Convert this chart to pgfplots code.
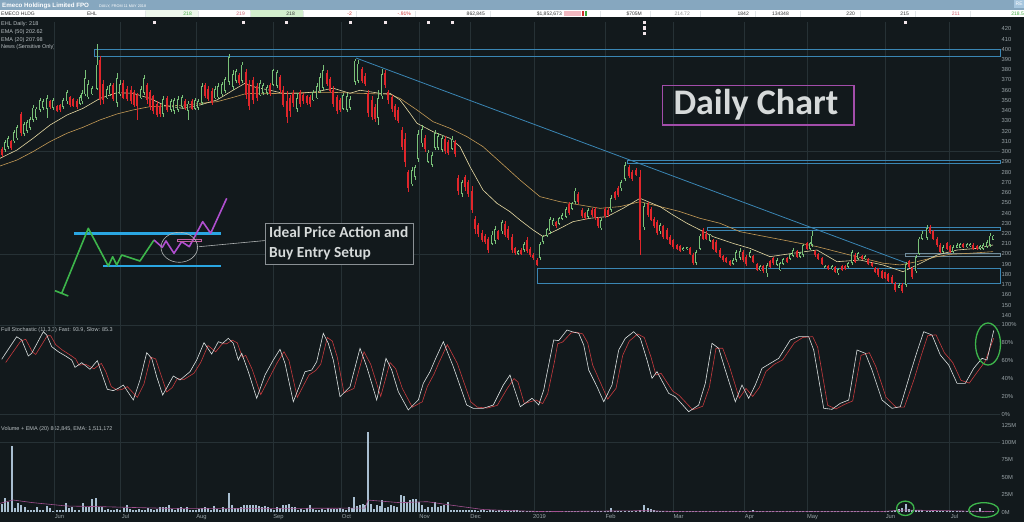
\documentclass[border=0pt]{standalone}
\usepackage{fontspec}
\setmainfont{Liberation Sans}
\newfontfamily\carlito{Carlito}
\usepackage{pgfplots}
\usepackage{pgfplotstable}
\pgfplotsset{compat=1.18}

\definecolor{bgc}{HTML}{12191C}
\definecolor{gridc}{HTML}{263135}
\definecolor{tickc}{HTML}{9AA4A8}
\definecolor{upc}{HTML}{79C178}
\definecolor{dnc}{HTML}{E0262B}
\definecolor{emaf}{HTML}{E6D9A2}
\definecolor{emas}{HTML}{C49A55}
\definecolor{boxc}{HTML}{3A86B4}
\definecolor{fastc}{HTML}{DDE2E2}
\definecolor{slowc}{HTML}{C63A3E}
\definecolor{volc}{HTML}{A8BED0}
\definecolor{vemac}{HTML}{A2508F}
\definecolor{hdrc}{HTML}{86A7BF}
\definecolor{cyanc}{HTML}{2AA6E2}
\definecolor{grnc}{HTML}{3DB54B}
\definecolor{purc}{HTML}{B04FCF}
\definecolor{annc}{HTML}{D6DADA}
\definecolor{dboxc}{HTML}{A24DAA}
\definecolor{legc}{HTML}{B8BFC2}
\definecolor{rebox}{HTML}{A6C6DE}
\definecolor{cellg}{HTML}{D3EECD}
\definecolor{cellg2}{HTML}{EEF7EC}
\definecolor{sepc}{HTML}{E2E6E8}
\definecolor{dtext}{HTML}{333333}
\definecolor{gtext}{HTML}{3DAA3D}
\definecolor{ptext}{HTML}{D06070}
\definecolor{rtext}{HTML}{D03030}
\definecolor{pinkbar}{HTML}{F2B8C0}
\definecolor{newsc}{HTML}{F2E6EA}
\definecolor{thinbox}{HTML}{6F8C9C}
\definecolor{pinkrect}{HTML}{C060A0}
\definecolor{ellc}{HTML}{B0B4B4}
\definecolor{tboxc}{HTML}{8A9094}

% x open high low close  (x in chart pixels)
\pgfplotstableread{
x o h l c
2 303 305 295 297
5 302 311 300 309
8 305 315 303 313
11 310 311 302 304
14 310 321 308 319
17 313 326 311 324
21 337 339 315 318
24 317 329 315 327
27 320 331 318 329
30 323 334 321 332
33 331 346 329 343
36 333 344 331 342
40 341 352 339 350
43 343 351 341 349
47 342 355 333 352
50 349 350 342 344
53 343 352 341 350
57 345 346 339 340
60 346 347 339 341
63 344 352 342 350
67 349 360 347 358
70 353 354 344 346
73 351 352 344 345
77 349 351 342 344
80 347 355 346 353
82 349 360 347 357
85 356 380 354 372
88 353 370 351 366
92 356 364 355 362
97 361 405 360 385
100 390 393 346 350
103 366 370 347 350
107 352 364 351 361
110 356 367 354 365
113 365 367 349 351
117 348 377 344 372
120 356 370 354 366
123 367 370 351 352
127 361 364 349 351
131 360 364 347 349
134 358 360 344 346
137 355 357 331 345
141 352 364 351 361
144 357 375 355 372
147 365 367 347 350
150 358 360 341 344
153 354 355 337 340
157 347 349 334 336
160 345 347 334 337
163 337 354 334 351
167 352 354 339 341
171 341 351 339 349
174 340 352 337 350
178 341 354 339 351
182 344 355 342 353
185 349 351 341 343
188 340 349 331 347
192 349 351 341 342
195 342 352 341 350
198 343 351 341 349
202 348 367 346 364
205 365 367 352 354
208 361 364 349 351
212 359 362 346 348
215 352 364 351 361
218 353 367 351 364
222 356 368 354 366
225 359 373 357 371
229 368 395 365 392
233 363 380 360 376
236 369 381 367 379
239 375 377 365 367
242 369 388 367 385
246 378 381 351 355
249 366 370 341 345
253 370 373 347 350
257 364 367 349 352
260 355 370 354 367
263 357 367 355 365
267 357 365 355 363
270 365 367 354 356
273 365 381 364 380
277 364 380 362 378
280 373 375 357 360
283 360 364 344 346
287 349 359 328 334
290 352 355 334 340
293 357 360 344 348
297 342 357 339 352
300 358 360 344 347
303 355 357 347 349
307 354 355 346 348
310 353 355 344 347
313 350 360 349 358
317 352 367 351 364
320 359 377 357 373
323 362 385 360 380
327 377 380 364 366
330 371 373 357 359
333 360 364 344 347
337 353 355 337 340
340 350 352 339 341
343 342 357 341 355
347 341 357 339 354
350 343 354 341 351
355 368 391 365 389
358 369 390 367 386
362 381 383 367 369
365 374 377 364 366
368 357 360 334 338
372 350 354 331 334
375 344 347 329 332
378 333 360 326 352
382 354 381 351 376
385 377 380 362 365
388 358 360 347 350
392 353 355 339 342
395 345 347 331 334
398 341 344 328 330
402 321 324 302 305
405 312 318 285 290
408 280 282 261 264
412 268 285 266 282
415 275 287 272 285
418 293 321 290 317
422 308 326 305 322
425 313 316 300 303
428 290 302 289 299
432 287 300 285 297
435 304 321 302 318
438 304 318 302 315
442 302 316 300 313
445 312 315 298 301
448 309 311 297 299
452 303 315 302 312
455 309 311 295 298
458 274 277 258 262
462 259 272 256 270
465 275 277 262 265
468 270 272 256 259
472 262 266 240 243
475 234 237 220 224
478 228 230 217 220
482 221 223 212 214
485 218 220 210 212
488 215 217 201 204
492 210 222 209 219
495 213 227 210 224
498 222 223 214 215
502 222 233 220 231
505 229 232 217 219
508 224 227 214 216
512 217 220 201 204
515 206 207 199 201
518 200 204 199 203
521 204 205.5 199 200
524 204 212 202 210
527 214 217 201 203
530 205 207 197 199
533 199 201 194 196
537 194 196 188 189
540 196 212 194 210
543 212 219 210 217
547 218 225 217 224
550 222 236 220 234
553 228 235 227 233
556 231 232 225 227
559 229 236 228 235
562 234 240 233 238
566 236 246 235 244
569 249 251 238 240
572 244 251 243 250
575 251 264 249 262
578 259 261 249 251
582 243 245 235 237
585 240 241 233 235
588 236 245 235 243
592 243 245 236 238
595 244 246 233 235
598 235 236 225 227
601 225 235 223 233
605 244 246 235 237
608 243 245 236 238
611 243 258 241 255
615 261 262 253 255
618 264 266 256 258
621 264 272 262 270
625 273 290 271 287
629 285 287 274 276
632 280 282 271 273
636 282 284 276 277
640 275 282 199 214
644 226 250 223 247
648 249 251 236 238
651 244 246 232 233
654 234 236 225 227
657 231 233 219 221
660 222 230 220 228
663 227 228 215 217
667 223 225 214 215
670 217 219 209 210
673 214 215 205 207
677 209 210 204 205
680 208 209 202 203
683 204 207 203 206
687 204.5 207 203.5 206.5
690 206 207 199 200
693 199 201 189 191
696 191 204 189 202
700 205 220 204 218
703 223 225 214 215
706 220 222 214 215
710 213 220 212 219
713 214 215 204 205
716 212 214 201 202
720 204 205.5 196 197
723 198 199 192 194
726 196 197 191 192
730 193 194 188 189
733 190 196 189 194
736 194 204 192 202
740 196 205.5 194 203
743 202 204 192 194
746 197 199 188 190
750 197 204 196 202
753 198 199 191 192
757 190 191 183 184
760 184 189 183 188
763 188 189 181 183
767 181 191 178 189
770 193 194 186 187
773 196 197 189 191
777 189 196 188 194
780 184 192.5 183 191
783 190 196 189 195
787 196 197 191 192
790 195 201 194 200
793 198 205.5 197 204
797 203 204 196 197
800 197 202 196 201
803 199 210 197 209
807 211 212 204 205
810 205 212 204 211
812 209 222 207 218
815 203 204 197 199
818 200 201 194 195
822 196 197 189 190
825 186.5 189 186 188.5
828 188.5 189 184.5 185.5
832 185.5 189 184.5 188
835 187 188 181 182
838 181 186 179.5 185
842 188 189 183 184
845 188 189 184.5 185
848 187 192.5 186 191
852 191 204 189 202
855 199 201 191 192
858 195 202 194 201
862 198 199 194 195
865 195 199 194 198
868 195 196 189 190
872 191.5 192.5 187.5 188
875 186.5 187.5 181 182
878 185 186 178 179
882 183 184.5 176 177
885 182 182.7 176 177
888 180 181 173 174
892 178 179.5 171 172
895 171 173 163 165
899 167 171.3 166.4 170
902 170 171.3 161.6 164
906 170 192.5 168 190
909 193 194 186 187
912 186 187.6 176 178
916 183 199 181 197
919 200 217 199 215
922 215 222 214 220
927 216 228 214 225
930 226 228 220 221
933 222 223.4 213.7 215
937 215 217 207 209
940 209 210.4 200.7 202
943 202 208.8 200.7 207
947 211 212 204 205
950 208 208.8 200.7 202
953 202 208.8 200.7 207
957 206 210.4 205.5 209
960 206 210.4 205.5 209.5
963 209.5 210.4 205.5 206.5
967 206.5 210.4 205.5 209.5
970 207.5 210.4 207 209.5
973 209 210.4 203.9 205
977 208 208.8 203.9 205
980 205 208.8 203.9 208
983 205 210.4 203.9 209
987 207 213.7 205.5 212
990 209 220.2 207.2 218
993 214 218.6 213.7 218
}\candles

\pgfplotstableread{
x v
0 293.5
17 301.6
33 313
50 326
67 335.8
83 342.3
100 352
117 357.6
133 357
150 352
165 345
183 342.3
200 345.6
217 350.5
233 360
245 366.8
255 363
270 360
283 357
300 357
317 358.6
333 362
350 357
360 360
380 357
390 357
400 350.5
410 337.4
417 327.7
433 319.5
450 313
460 304.9
470 285.3
483 262.5
497 249.5
510 241.3
520 233.2
533 223.5
543 217
557 223.5
573 231.6
590 234.9
607 236.5
623 244.6
640 254.4
648 251.1
660 246.3
673 238.1
687 230
700 223.5
713 217
733 210.4
750 205.5
770 197.4
793 200.7
817 203.9
837 192.5
860 194.1
883 189.3
903 182.7
917 189.3
937 199
957 203.9
977 205.5
993 208.8
}\emaf

\pgfplotstableread{
x v
0 286
17 291.8
33 300
50 309.8
67 318
83 323.8
100 331
117 336.8
133 340.7
150 344
167 344.6
187 345.6
200 347.2
217 348.8
233 353
247 357
260 356.5
283 357
300 357.5
330 358
360 357
390 356
400 352
417 340.7
433 329.3
450 322.8
467 314.6
483 304.9
500 290
520 272.3
540 256
560 251.1
580 247.9
600 244.6
620 246.3
640 251.1
660 246.3
680 241.4
700 234.9
720 230
740 221.8
760 218
783 213.7
817 207.2
850 199
883 191
900 189.3
917 192.5
937 197.4
950 199.7
970 200.7
993 202.3
}\emas

\pgfplotstableread{
x v
2 12
5 21
8 15
12 95
15 6
18 13
21 10
25 8
28 4
31 3
34 4
37 8
40 4
43 3
47 9
50 6
53 2
57 3
60 3.5
63 4
66 14
69 6
72 8
75 4
79 3
83 13
86 8
89 7
92 19
96 20
99 8
102 7
105 4
108 5
111 3
114 4
117 5
120 4
124 6
127 10
130 5
133 3
136 4
139 5
142 3
145 4
148 6
151 5
154 4
157 5
160 8
163 7
166 8
169 10
172 5
175 4
178 6
181 7
184 5
187 8
190 4
193 3
196 4
199 5
202 6
205 8
208 6
211 4
214 9
217 5
220 3
223 8
226 5
229 27
232 11
235 6
238 6
241 8
244 10
247 11
250 10
253 11
256 10
259 9
262 8
265 9
268 7
271 5
274 4
277 7
280 6
283 10
286 10
289 12
292 8
295 7
298 4
301 5
304 4
307 6
310 11
313 5
316 3
319 4
322 5
325 4
328 6
331 5
334 5
337 5
340 6
343 5
346 4
349 8
352 6
354 22
357 9
360 10
363 12
365 11
368 115.5
371 12
374 5
377 10
380 9
382 17.6
385 6
388 8
391 10
394 9
397 8
401 24.8
404 23
407 15
410 17.6
413 18.5
416 18.5
419 15
422 10.5
425 5
428 7
432 8
435 15
438 7
441 9
444 10.5
448 15
451 4
454 4
457 3
460 3
463 3
466 3.5
469 4
472 3
475 3
478 2.5
481 4
484 3
487 2
490 3
493 3
496 2.5
499 3
502 2
505 3
508 3.5
511 2.5
514 3
517 3
520 2
523 2.5
527 2
530 1.5
533 2
537 1.5
540 2
543 2.5
547 2
550 2
553 1.5
556 2
559 1.5
562 2
566 2
569 1.5
572 2
575 1.5
578 2
582 1.5
585 1.5
588 1.5
592 2
595 1.5
598 1.5
601 2
605 1.5
608 2.5
611 5.5
615 2
618 1.5
621 2
625 2
629 2.5
632 2
636 2
640 3
644 11
648 6
651 5
654 3
657 2
660 2
663 1.5
667 2
670 1.5
673 2.5
677 2
680 1.5
683 2
687 1.5
690 2
693 1.5
696 2
700 2
703 1.5
706 2
710 1.5
713 2
716 1.5
720 1.5
723 2
726 1.5
730 1.5
733 2
736 1.5
740 1.5
743 2
746 1.5
750 2.5
753 3
757 2
760 1.5
763 1.5
767 1.5
770 2
773 1.5
777 1.5
780 1.5
783 2
787 1.5
790 1.5
793 1.5
797 1.5
800 2
803 1.5
807 1.5
810 2
812 2.5
815 1.5
818 1.5
822 2
825 1.5
828 1.5
832 1.5
835 1.5
838 2
842 2.5
845 2
848 1.5
852 1.5
855 2
858 1.5
862 1.5
865 1.5
868 2
872 2
875 2
878 1.5
882 2
885 2
888 2
892 2.5
895 3
899 5
902 6
906 12
909 5
912 4
916 4
919 3
922 3
927 2.5
930 2
933 2
937 1.5
940 2
943 1.5
947 2
950 1.5
953 1.5
957 2
960 1.5
963 1.5
967 2
970 1.5
973 1.5
977 2
980 5.5
983 2
987 1.5
990 2
993 1.5
}\vol

\pgfplotsset{
  panel/.style={
    scale only axis, width=1000pt, xmin=0, xmax=1000,
    enlargelimits=false, clip=false,
    axis line style={draw=none}, major tick length=0pt,
    xtick={54,120,196,273,341,419,470,534,605,673,744,807,885,949},
    xmajorgrids, major grid style={draw=gridc, line width=0.5pt},
    yticklabel pos=right,
    tick label style={font=\fontsize{5.8}{6}\selectfont, text=tickc},
    yticklabel style={anchor=west, inner sep=1.5pt},
    /pgf/number format/assume math mode=true,
    extra y tick labels={}, extra y tick style={grid=major},
  },
  wick/.style={draw=none, mark=none, forget plot,
    error bars/y dir=both, error bars/y explicit, error bars/error mark=none,
    error bars/error bar style={draw=#1, line width=0.6pt}},
  body/.style={draw=none, mark=none, forget plot,
    error bars/y dir=both, error bars/y explicit, error bars/error mark=none,
    error bars/error bar style={draw=#1, line width=2.3pt}},
}

\begin{document}
\begin{tikzpicture}[x=1pt,y=1pt]
\path[use as bounding box] (0,0) rectangle (1024,522);
\fill[bgc] (0,0) rectangle (1024,522);

% ---------------- header ----------------
\fill[hdrc] (0,511.7) rectangle (1024,522);
\node[anchor=base west, inner sep=0, font=\bfseries\fontsize{6.2}{7}\selectfont, text=white] at (2,514) {Emeco Holdings Limited FPO};
\node[anchor=base west, inner sep=0, font=\fontsize{3.8}{4}\selectfont, text=white] at (99,514) {DAILY, FROM 11 MAY 2018};
\fill[rebox] (1014,514) rectangle (1024,522);
\fill[white] (0,504.7) rectangle (1024,511.7);
\fill[cellg] (250,504.7) rectangle (303,511.7);
\fill[cellg2] (145,504.7) rectangle (198,511.7);
\foreach \xx in {145,198,250,303,356,415,490,600,650,700,755,800,860,915,970}
  \draw[sepc, line width=0.4pt] (\xx,505) -- (\xx,511.4);
\begin{scope}[every node/.style={anchor=base east, inner sep=0, font=\fontsize{5}{5}\selectfont}]
\node[anchor=base west, text=dtext] at (1,506.2) {EMECO HLDG};
\node[text=dtext] at (97,506.2) {EHL};
\node[text=gtext] at (192,506.2) {218};
\node[text=ptext] at (245,506.2) {219};
\node[text=dtext] at (295,506.2) {218};
\node[text=rtext] at (352,506.2) {-2};
\node[text=rtext] at (411,506.2) {-.91\%};
\node[text=dtext] at (485,506.2) {862,845};
\node[text=dtext] at (562,506.2) {\$1,852,673};
\node[text=dtext] at (642,506.2) {\$705M};
\node[text=black!45] at (690,506.2) {214.72};
\node[text=dtext] at (749,506.2) {1842};
\node[text=dtext] at (789,506.2) {134348};
\node[text=dtext] at (855,506.2) {220};
\node[text=dtext] at (909,506.2) {215};
\node[text=ptext] at (960,506.2) {211};
\node[text=gtext] at (1024,506.2) {218.5};
\node[anchor=base west, text=white] at (1015.5,516) {RE};
\end{scope}
\fill[pinkbar] (564,505.8) rectangle (581,510.6);
\fill[rtext] (582,505.8) rectangle (584,510.6);
\fill[gtext] (585,505.8) rectangle (587,510.6);

% legend texts
\begin{scope}[every node/.style={anchor=base west, inner sep=0, font=\fontsize{5.5}{6}\selectfont, text=legc}]
\node at (1,496) {EHL Daily: 218};
\node at (1,488.3) {EMA (50) 202.62};
\node at (1,480.9) {EMA (20) 207.98};
\node at (1,473.5) {News (Sensitive Only)};
\node at (1,190) {Full Stochastic (11,3,3) Fast: 93.9, Slow: 85.3};
\node at (1,91.7) {Volume + EMA (20) 862,845, EMA: 1,511,172};
\end{scope}
% news icons
\foreach \xx/\yy in {154/499.3,243/499.3,286/499.3,350/499.3,385/499.3,428/499.3,452/499.3,644.7/499.3,644.7/493.8,644.7/488.3,905.3/499.3}
  \fill[newsc] (\xx-1.5,\yy-1.8) rectangle (\xx+1.5,\yy+1.8);

% ---------------- price panel ----------------
\begin{axis}[panel, at={(0pt,200pt)}, anchor=south west, height=300pt,
  ymin=133.56, ymax=426.67, ytick={140,150,...,420}, xticklabels={},
  extra y ticks={200,300}]
\draw[boxc, line width=0.8pt] (94,400) rectangle (1000,393.5);
\draw[boxc, line width=0.8pt] (627,291) rectangle (1000,288.5);
\draw[boxc, line width=0.8pt] (707,226) rectangle (1000,223);
\draw[boxc, line width=0.8pt] (537,186) rectangle (1000,171);
\draw[thinbox, line width=0.6pt] (905,201) rectangle (1000,197.5);
\draw[boxc, line width=0.8pt] (356,391.5) -- (907,191);
\addplot[emas, line width=0.6pt, forget plot] table[x=x,y=v] {\emas};
\addplot[emaf, line width=0.6pt, forget plot] table[x=x,y=v] {\emaf};
% up candles
\addplot[restrict expr to domain={\thisrow{c}-\thisrow{o}}{0:1000}, wick=upc]
  table[x=x, y expr={(\thisrow{h}+\thisrow{l})/2}, y error expr={(\thisrow{h}-\thisrow{l})/2}] {\candles};
\addplot[restrict expr to domain={\thisrow{c}-\thisrow{o}}{0:1000}, body=upc]
  table[x=x, y expr={(\thisrow{o}+\thisrow{c})/2}, y error expr={abs(\thisrow{c}-\thisrow{o})/2}] {\candles};
\addplot[restrict expr to domain={\thisrow{c}-\thisrow{o}}{2:1000}, wick=bgc,
  error bars/error bar style={line width=0.9pt}]
  table[x=x, y expr={(\thisrow{o}+\thisrow{c})/2}, y error expr={abs(\thisrow{c}-\thisrow{o})/2-0.8}] {\candles};
% down candles
\addplot[restrict expr to domain={\thisrow{c}-\thisrow{o}}{-1000:-0.01}, wick=dnc]
  table[x=x, y expr={(\thisrow{h}+\thisrow{l})/2}, y error expr={(\thisrow{h}-\thisrow{l})/2}] {\candles};
\addplot[restrict expr to domain={\thisrow{c}-\thisrow{o}}{-1000:-0.01}, body=dnc]
  table[x=x, y expr={(\thisrow{o}+\thisrow{c})/2}, y error expr={abs(\thisrow{c}-\thisrow{o})/2}] {\candles};
\end{axis}

% ---------------- stochastic panel ----------------
\begin{axis}[panel, at={(0pt,105pt)}, anchor=south west, height=95pt,
  ymin=-3.02, ymax=103.36, ytick={0,20,...,100},
  yticklabels={0\%,20\%,40\%,60\%,80\%,100\%}, xticklabels={},
  extra y ticks={0,100}]
\addplot[slowc, line width=0.6pt] coordinates {
(5.7,58)(10.7,66)(20.7,82)(25.7,84)(32.3,70)(35.7,67)(47.3,88)(50.7,88)(55.7,78)(62.3,72)
(70.7,66)(75.7,62)(79,55)(85.7,56)(94,51)(101.3,57)(105.7,48)(111.3,31)(117.3,27)(122.3,28)
(127.3,31)(137.3,19)(144,34)(150.7,64)(155.7,62)(160.7,45)(166.7,25)(172.3,30)(177.3,40)(184,39)
(194,46)(200.7,58)(208,77)(215.7,70)(222.3,79)(226.7,79)(232.3,83)(237.3,80)(242.3,64)(245.7,66)
(252.3,50)(260.7,22)(269,40)(277.3,58)(284,70)(289,60)(297.3,19)(309,44)(315.7,49)(320.7,56)
(327.3,86)(332.3,82)(337.3,64)(344,24)(354,29)(364,70)(370.7,56)(380.7,20)(390,58)(395.7,51)
(402.3,29)(412.3,8)(422.3,14)(427.3,31)(434,45)(439,58)(447.3,78)(457.3,57)(470.7,14)(477.3,8)
(487.3,7)(497.3,10)(507.3,29)(514,40)(518,36)(524.3,12)(536,16)(542.7,12)(547.7,23)(554.3,58)
(557.7,79)(562.7,81)(571,91)(576,92)(582.7,90)(587.7,80)(592.7,55)(601,34)(607.7,17)(616,29)
(622.7,66)(629.3,82)(637.7,90)(644.3,86)(651,64)(656,44)(661,46)(672.7,26)(679.3,21)(692.7,5)
(702.7,9)(709.3,30)(716,74)(722.7,74)(729.3,54)(739.3,18)(746,29)(752.7,20)(759.3,30)(766,48)
(774.3,56)(782.7,61)(794.3,80)(802.7,86)(812.7,87)(817.7,75)(827.7,10)(836,6)(844.3,11)(852.7,15)
(861,66)(869.3,69)(876,53)(886,19)(896,8)(904.3,8)(914.3,40)(921,65)(927.7,88)(936,89)
(944.3,69)(952.7,58)(961,38)(969.3,35)(977.7,48)(985,59)(993.7,85.3)};
\addplot[fastc, line width=0.6pt] coordinates {
(1.7,61.6)(6.7,70.1)(16.7,86.9)(21.7,83.2)(28.3,65.3)(31.7,68.3)(43.3,92.5)(46.7,88.8)(51.7,75.7)(58.3,70.1)
(66.7,64.5)(71.7,60.8)(75,52.6)(81.7,57.8)(90,50.4)(97.3,60.1)(101.7,45.9)(107.3,28)(113.3,26.5)(118.3,29.1)
(123.3,32.8)(133.3,16)(140,38.4)(146.7,69)(151.7,62.7)(156.7,42.1)(162.7,21.6)(168.3,32.8)(173.3,42.9)(180,38.4)
(190,47.7)(196.7,60.8)(204,80.2)(211.7,67.5)(218.3,81.3)(222.7,79.5)(228.3,85.1)(233.3,79.5)(238.3,60.8)(241.7,68.3)
(248.3,47.7)(256.7,17.9)(265,44)(273.3,60.8)(280,72.8)(285,57.1)(293.3,14.1)(305,47.7)(311.7,49.6)(316.7,58.9)
(323.3,90.7)(328.3,79.5)(333.3,60.8)(340,19.7)(350,30.9)(360,73.9)(366.7,53.3)(376.7,16)(386,62.7)(391.7,49.6)
(398.3,25.3)(408.3,4.8)(418.3,16)(423.3,34.7)(430,47.7)(435,60.8)(443.3,81.3)(453.3,53.3)(466.7,10.4)(473.3,6.7)
(483.3,6.7)(493.3,10.4)(503.3,32.8)(510,44)(512,36.5)(520.3,8.5)(532,17.9)(538.7,10.4)(543.7,27.2)(550.3,64.5)
(553.7,83.2)(558.7,82.5)(567,94.4)(572,92.5)(578.7,90.7)(583.7,77.6)(588.7,49.6)(597,30.9)(603.7,14.1)(612,32.8)
(618.7,72)(625.3,85.1)(633.7,92.5)(640.3,85.1)(647,60.8)(652,40.3)(657,47.7)(668.7,23.5)(675.3,19.7)(688.7,2.9)
(698.7,10.4)(705.3,34.7)(712,79.5)(718.7,73.9)(725.3,49.6)(735.3,14.1)(742,32.8)(748.7,17.9)(755.3,32.8)(762,51.5)
(770.3,57.1)(778.7,62.7)(790.3,83.2)(798.7,86.9)(808.7,86.9)(813.7,72)(823.7,6.7)(832,5.6)(840.3,12.3)(848.7,16)
(857,72)(865.3,68.3)(872,49.6)(882,16)(892,6.7)(900.3,8.5)(910.3,45.9)(917,70.1)(923.7,92.5)(932,88.8)
(940.3,66.4)(948.7,55.2)(957,34.7)(965.3,34.7)(973.7,51.5)(982,62.7)(987,60.8)(993.7,93.9)};
\end{axis}

% ---------------- volume panel ----------------
\begin{axis}[panel, at={(0pt,9pt)}, anchor=south west, height=96pt,
  ymin=-1.0, ymax=136.5, ytick={0,25,...,125},
  yticklabels={0M,25M,50M,75M,100M,125M},
  xticklabels={Jun,Jul,Aug,Sep,Oct,Nov,Dec,2019,Feb,Mar,Apr,May,Jun,Jul},
  xticklabel style={xshift=5.5pt, inner sep=1pt},
  extra y ticks={100}]
\addplot[ycomb, volc, line width=1.2pt] table[x=x,y=v] {\vol};
\addplot[vemac, line width=0.6pt] coordinates {
(0,12.8)(13,17.6)(33,13.8)(67,9)(100,8.1)(167,5.7)(233,5.7)(300,5.7)(365,6)(368,17.5)
(400,13.8)(427,15.2)(450,10.5)(483,4)(512,2.3)(545,1)(645,2.3)(680,1)(880,1)(905,3.3)(945,2.3)(993,1)};
\end{axis}

% ---------------- annotations (chart pixels) ----------------
\draw[dboxc, line width=1.2pt] (662.7,436.7) rectangle (854,397);
\node[anchor=base west, inner sep=0, text=annc, font=\carlito\bfseries\fontsize{36}{36}\selectfont] at (673.3,407) {Daily Chart};
\draw[cyanc, line width=2.6pt] (74,288.7) -- (220.7,288.7);
\draw[cyanc, line width=2.6pt] (103.3,256) -- (220.7,256);
\draw[grnc, line width=1.6pt] (55,231.3) -- (68.3,226);
\draw[grnc, line width=1.6pt, line join=round] (61.7,228.7) -- (88.3,293.7) -- (108.3,256) -- (112.7,265.3) -- (116.7,257) -- (121.7,267) -- (140,261) -- (154,282);
\draw[purc, line width=1.6pt, line join=round] (154,282) -- (162.3,274.7) -- (166,281) -- (174,268.7) -- (181.7,280.3) -- (189.3,275.3) -- (202.7,300.3) -- (210.7,288.7) -- (226.7,323.7);
\draw[pinkrect, line width=0.7pt] (177.7,283) rectangle (201.7,280.8);
\draw[ellc, line width=0.6pt] (179.3,274.7) ellipse [x radius=18.3pt, y radius=15pt];
\draw[ellc, line width=0.6pt] (199,275.3) -- (265.7,281.5);
\draw[tboxc, fill=bgc, line width=0.6pt] (265.7,298.7) rectangle (413.3,258);
\node[anchor=base west, inner sep=0, text=annc, font=\carlito\bfseries\fontsize{15.4}{16}\selectfont] at (269,284) {Ideal Price Action and};
\node[anchor=base west, inner sep=0, text=annc, font=\carlito\bfseries\fontsize{15.4}{16}\selectfont] at (269,264) {Buy Entry Setup};
\draw[grnc, line width=1.3pt] (988,178) ellipse [x radius=12.5pt, y radius=21pt];
\draw[grnc, line width=1.3pt] (905.3,13.7) ellipse [x radius=8.7pt, y radius=7.2pt];
\draw[grnc, line width=1.3pt] (983.7,12) ellipse [x radius=15pt, y radius=7.3pt];
\end{tikzpicture}
\end{document}
